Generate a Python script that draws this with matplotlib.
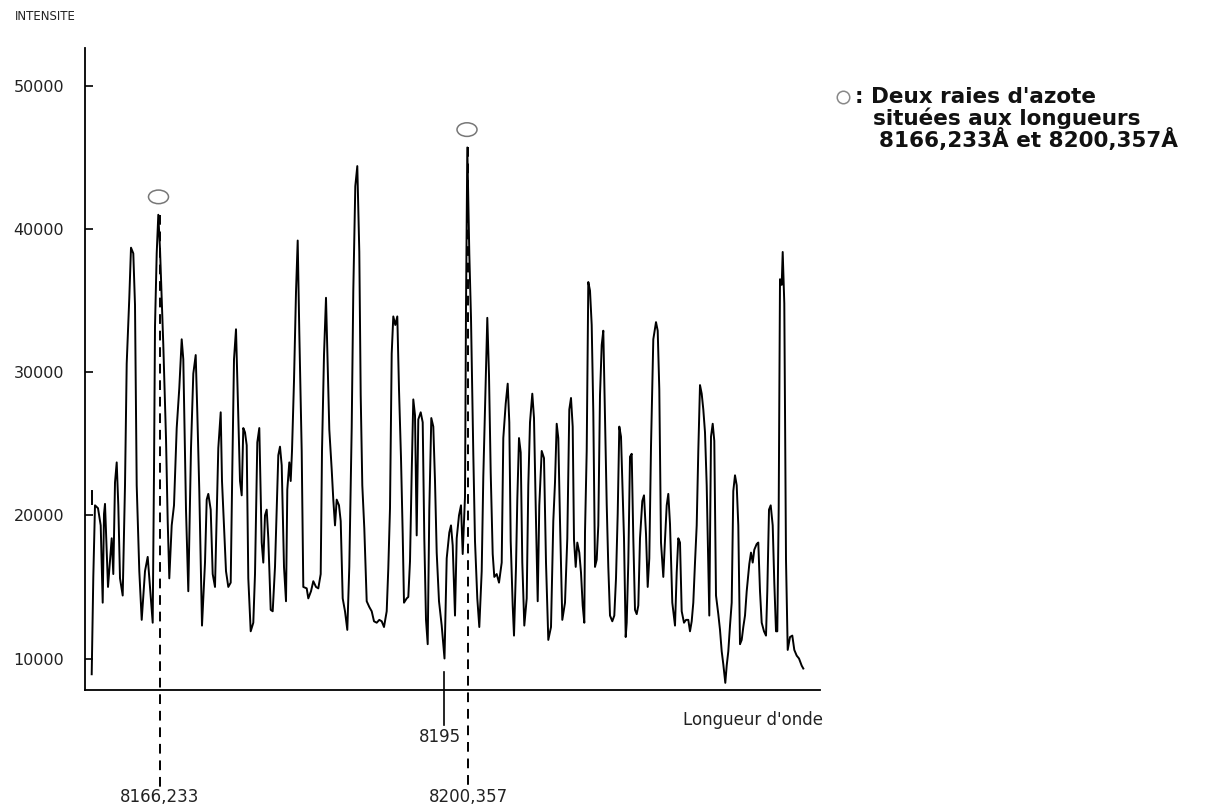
import matplotlib
matplotlib.use("Agg")
import matplotlib.pyplot as plt
import matplotlib.transforms as mtransforms
from matplotlib.patches import Ellipse
from matplotlib.lines import Line2D

# Spectre (position horizontale en unités du tracé, intensité)
position = [
    91.7, 93.3, 95, 98, 100.7, 102.7, 104, 105, 108, 111.7, 113.3, 115, 116.7, 118.3, 120, 122.7,
    125, 126.7, 129.3, 131, 133.3, 135, 136.7, 139.3, 141.7, 145, 147.7, 150, 152.7, 154, 155,
    156.7, 158.3, 160, 163.3, 166, 167.7, 169.3, 171.7, 174, 176.7, 179.3, 181.7, 183.3, 186,
    188.3, 191, 193.3, 195.7, 197.3, 199.3, 202, 205,
    206.7, 208.3, 210.7, 212.7, 215, 216.7, 218.3, 220.7, 222, 224, 226, 228.3, 230.7, 232.3,
    234, 236, 238.3, 240, 241.7, 243.3, 245, 246.7, 248.3, 250.7, 253.3, 255, 257.3, 259.3,
    261.7, 263.3, 265, 266.7, 268.3, 270.7, 272.7, 275, 276.7, 278.3, 280, 281.7, 284, 286,
    287.3, 289.3, 290.7, 292, 294, 296, 297.7, 299.3, 301.7, 303.3, 306.7, 308.3, 311, 313.3,
    316, 318.3, 320.7,
    322, 324, 326, 327.3, 329.3, 331.7, 333.3, 335, 336.7, 339, 340.7, 342.7, 345, 347.3, 349.3,
    351.7, 353.3, 355.3, 357.3, 359.3, 360.7, 362.3, 364.3, 366.7, 369.3, 371.7, 374, 376.7,
    379.3, 381.7, 384, 386.7, 388.3, 390, 391.7, 393.3, 395.3, 397.3, 399, 401, 402.7, 404,
    406.7, 408.3, 410, 411.7, 413.3, 415, 416.7, 418.3, 420.7, 422.7, 424.3, 426, 427.7, 429.3,
    431.3, 433.3, 435, 436.7, 439, 441.7, 444.5,
    446.7, 449.3, 451, 452.7, 455, 456.7, 459, 461, 462.7, 465, 466, 467.3, 469.3, 471, 473.3,
    475, 477.3, 479.3, 481.7, 483.3, 485.7, 487.3, 489, 490.7, 492.7, 494.3, 496.7, 499, 501.7,
    503.3, 505.7, 507.7, 509.3, 510.7, 512.7, 514, 516, 517.3, 519, 520.7, 522.3, 524.3, 526.7,
    528.3, 530, 532.3, 534, 536, 537.7, 539.3, 541.7, 544, 546, 548.3, 551, 553.3, 555, 556.7,
    558.3, 560, 562.3, 565, 567.3, 569.3,
    571, 572.7, 574, 575.7, 577.3, 579.3, 581, 582.7, 584.3, 585, 586.7, 588.3, 590, 591.7,
    593.3, 595, 596.7, 598.3, 600, 601.7, 603.3, 605, 606.7, 608.3, 610, 612.3, 614.3, 616,
    617.7, 619.3, 621, 622.7, 624, 625.7, 626.7, 628.3, 630, 631.7, 633.3, 635, 636.7, 638.3,
    640, 642.3, 644, 646, 647.7, 649.3, 651, 653.3, 656, 657.7, 659.3, 661, 663.3, 665, 666.7,
    668.3, 670, 672.3, 675, 676.7, 678.3, 680, 681.7, 684,
    686, 688.3, 690, 691.7, 693.3, 695, 696.7, 698.3, 700, 701.7, 703.3, 705, 706.7, 709.3, 711,
    712.7, 714.3, 716, 718.3, 720, 721.7, 723.3, 725.3, 726.7, 728.3, 730, 731.7, 733.3, 735,
    736.7, 738.3, 740, 741.7, 743.3, 745, 746.7, 749.3, 751, 752.7, 754.3, 756.7, 758.3, 760,
    761.7, 764, 766, 767.3, 769, 770.7, 772.7, 774.3, 776, 777.3, 778.7, 780, 781.7, 782.7,
    784.3, 786, 787.7, 790, 792.3, 794.3, 796.7, 799, 801.7, 803.3,
]
intensite = [
    8900, 15700, 20700, 20500, 19300, 13900, 20100, 20800, 15000, 18400, 15900, 22300, 23700, 20700, 15600, 14400,
    22100, 30600, 35200, 38700, 38300, 34700, 22100, 16100, 12700, 16100, 17100, 15000, 12500, 23000, 33200,
    38300, 41000, 38600, 31900, 25400, 19600, 15600, 19300, 20700, 26100, 28900, 32300, 30900, 20400,
    14700, 24700, 29900, 31200, 27200, 21700, 12300, 16700,
    21100, 21500, 20400, 15900, 15000, 20100, 24700, 27200, 22400, 19300, 16100, 15000, 15300, 23200,
    30900, 33000, 26800, 22400, 21400, 26100, 25800, 24900, 15600, 11900, 12500, 15900, 25100, 26100,
    18100, 16700, 20000, 20400, 18400, 13400, 13300, 16400, 20300, 24200, 24800, 23500, 16400, 14000,
    21800, 23700, 22400, 24500, 29400, 35600, 39200, 32800, 24500, 15000, 14900, 14200, 14700, 15400,
    15000, 14900, 15900,
    24500, 31200, 35200, 31500, 26000, 23200, 21100, 19300, 21100, 20700, 19600, 14200, 13300, 12000, 16400,
    26100, 35700, 43000, 44400, 38400, 28400, 22100, 19100, 14000, 13600, 13300, 12600, 12500,
    12700, 12600, 12200, 13300, 16300, 20500, 31300, 33900, 33300, 33900, 28800, 24000, 18700, 13900,
    14200, 14300, 16800, 23000, 28100, 27000, 18600, 26700, 27200, 26500, 18400, 12700, 11000, 20400,
    26800, 26200, 22400, 17400, 14000, 12300, 10000,
    17000, 18800, 19300, 17900, 13000, 18400, 20000, 20700, 17300, 21300, 34500, 45700, 38300, 33800, 24300,
    18200, 14200, 12200, 16100, 22700, 29200, 33800, 29800, 23000, 17300, 15700, 15900, 15300, 16700,
    25400, 27800, 29200, 26500, 18200, 13700, 11600, 16400, 21100, 25400, 24400, 16700, 12300, 14200,
    22100, 26500, 28500, 26800, 19600, 14000, 20700, 24500, 24000, 16700, 11300, 12200, 19600, 22300, 26400,
    25400, 19600, 12700, 13900, 18400, 27400,
    28200, 26200, 18300, 16400, 18100, 17400, 16000, 13700, 12500, 18800, 24500, 36300, 35700, 33300,
    27200, 16400, 16900, 19300, 28400, 31900, 32900, 26700, 20800, 16400, 13000, 12600, 13000, 15600,
    20100, 26200, 25500, 21500, 18400, 11500, 12500, 16700, 24100, 24300, 18400, 13400, 13100, 13700,
    18400, 21000, 21400, 18700, 15000, 17000, 24800, 32300, 33500, 32900, 28800, 18100, 15700, 18300, 20700,
    21500, 19400, 13900, 12300, 16000, 18400, 18100, 13300, 12500,
    12700, 12700, 11900, 12600, 13900, 16700, 19300, 24500, 29100, 28500, 27400, 25800, 22100, 13000, 25500,
    26400, 25200, 14400, 13100, 12000, 10500, 9600, 8300, 9500, 10500, 12300, 13900, 21700, 22800,
    22100, 19300, 11000, 11300, 12200, 13000, 14700, 16600, 17400, 16700, 17600, 18000, 18100, 14700,
    12500, 11900, 11600, 14700, 20400, 20700, 19300, 15300, 11900, 11900, 20500, 36500, 36100, 38400,
    34800, 16900, 10600, 11500, 11600, 10600, 10200, 10000, 9500, 9300,
]

# petit trait isolé au début du relevé
debut_pos = [92, 92]
debut_int = [20800, 21700]

y_ticks = [10000, 20000, 30000, 40000, 50000]

# raies d'azote repérées
raies_pos = [159.5, 468]
raies_labels = ["8166,233", "8200,357"]
repere_pos = 444
repere_label = "8195"

YMIN, YMAX = 7800, 52650
XMIN, XMAX = 85, 820

W, H = 1223, 807
fig = plt.figure(figsize=(W / 100, H / 100), dpi=100)
ax = fig.add_axes([XMIN / W, (H - 690) / H, (XMAX - XMIN) / W, (690 - 48) / H])

ax.plot(position, intensite, color="black", lw=1.4)
ax.plot(debut_pos, debut_int, color="black", lw=1.4)

ax.set_xlim(XMIN, XMAX)
ax.set_ylim(YMIN, YMAX)
for s in ["top", "right"]:
    ax.spines[s].set_visible(False)
for s in ["left", "bottom"]:
    ax.spines[s].set_linewidth(1.3)

ax.set_xticks([])
ax.set_yticks(y_ticks)
ax.set_yticklabels([str(v) for v in y_ticks], fontsize=11.5, color="#222222")
ax.tick_params(axis="y", direction="in", length=6, width=1.2, pad=15)

trans = mtransforms.blended_transform_factory(ax.transData, ax.transAxes)

# lignes en tirets sous les deux raies + cercles
for xp, lab in zip(raies_pos, raies_labels):
    near = [v for p, v in zip(position, intensite) if abs(p - xp) < 3]
    top = max(near)
    top_frac = (top - YMIN) / (YMAX - YMIN)
    ax.plot([xp, xp], [top_frac, -0.155], transform=trans, color="black",
            lw=1.4, ls=(0, (5, 3.5)), clip_on=False)
    ax.add_patch(Ellipse((xp - 1, top + 1250), 20, 950, fill=False,
                         edgecolor="#777777", lw=1.1))
    ax.text(xp, -0.167, lab, transform=trans, ha="center", va="center",
            fontsize=12, color="#222222")

# repère 8195
ax.plot([repere_pos, repere_pos], [0.028, -0.055], transform=trans,
        color="black", lw=1.2, clip_on=False)
ax.text(repere_pos - 4, -0.073, repere_label, transform=trans, ha="center",
        va="center", fontsize=12, color="#222222")

ax.text(823, -0.047, "Longueur d'onde", transform=trans, ha="right",
        va="center", fontsize=12, color="#222222")

fig.text(15 / W, 1 - 17 / H, "INTENSITE", fontsize=8.5, ha="left",
         va="center", color="#222222")

# légende
fig.add_artist(Line2D([843 / W], [1 - 97 / H], marker="o", markersize=9,
                      markerfacecolor="none", markeredgecolor="#888888",
                      markeredgewidth=1.1, transform=fig.transFigure))
legende = [": Deux raies d'azote", "situées aux longueurs",
           "8166,233Å et 8200,357Å"]
legende_x = [855, 873, 879]
for i, (ligne, lx) in enumerate(zip(legende, legende_x)):
    fig.text(lx / W, 1 - (97 + 21.5 * i) / H, ligne, fontsize=15.5,
             fontweight="bold", ha="left", va="center", color="#111111")

fig.savefig("out.png", dpi=100)
